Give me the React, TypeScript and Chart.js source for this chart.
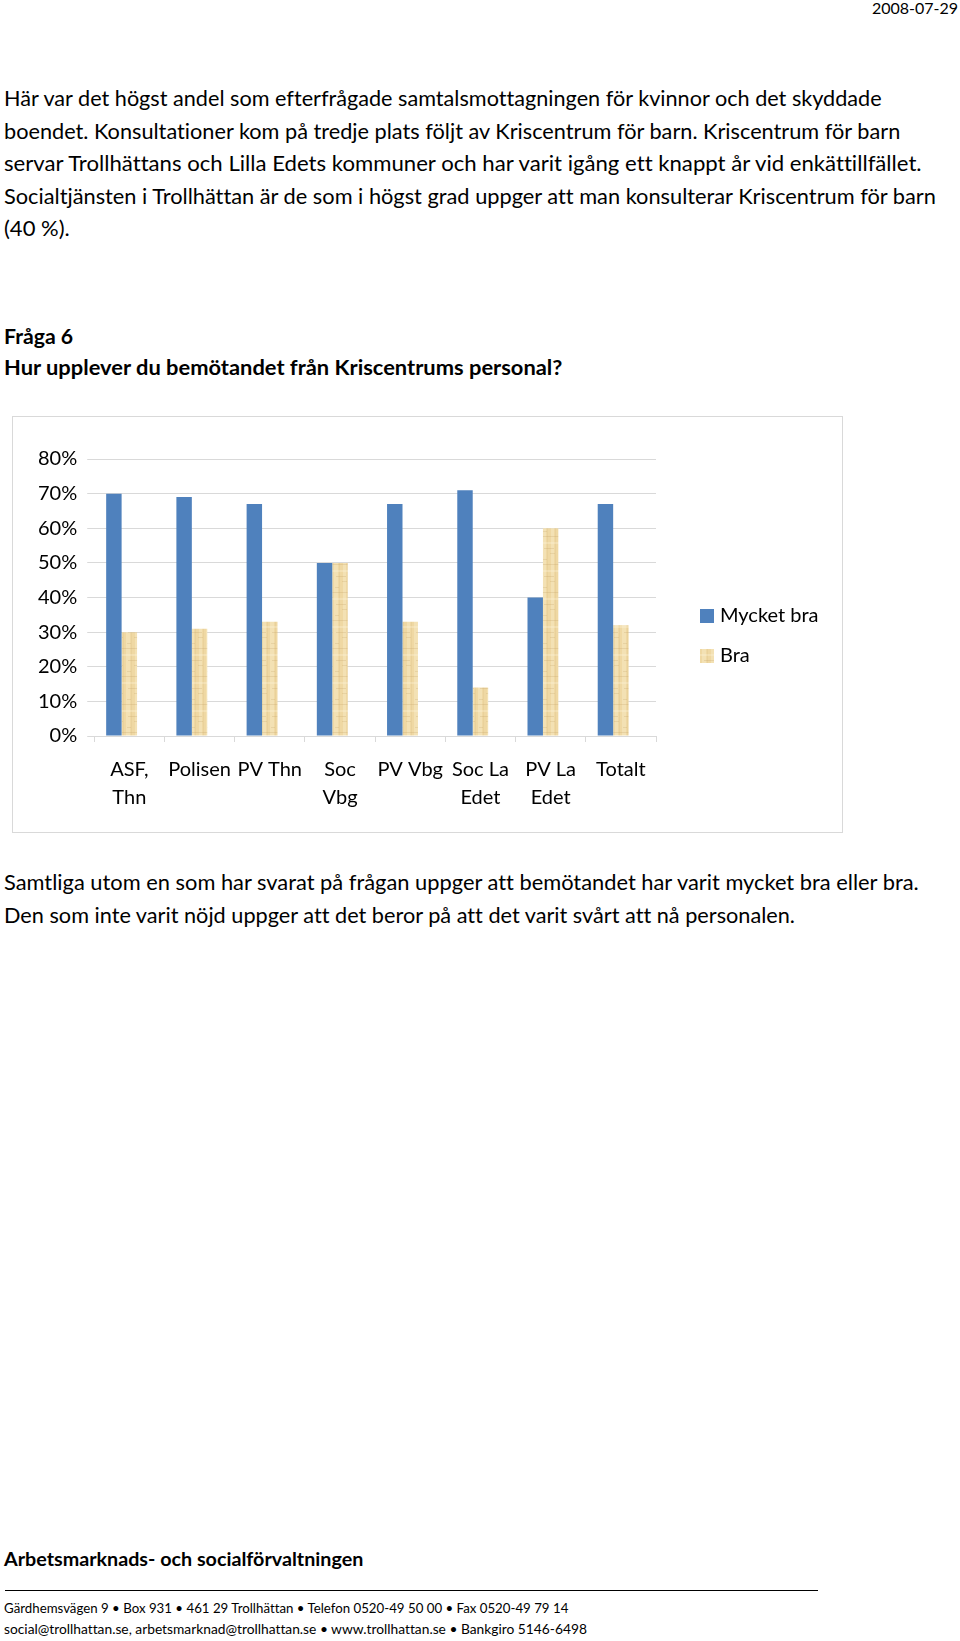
import React, { useEffect, useLayoutEffect, useRef } from "react";
import { Chart, registerables } from "chart.js";

Chart.register(...registerables);

// ---- Data ----
const categories: (string | string[])[] = [
  ["ASF,", "Thn"],
  "Polisen",
  "PV Thn",
  ["Soc", "Vbg"],
  "PV Vbg",
  ["Soc La", "Edet"],
  ["PV La", "Edet"],
  "Totalt",
];
const seriesNames = ["Mycket bra", "Bra", "Övrigt"];
const mycketBra = [70, 69, 67, 50, 67, 71, 40, 67];
const bra = [30, 31, 33, 50, 33, 14, 60, 32];
// third series of the original chart: no visible bars, not in legend
const ovrigt = [0, 0, 0, 0, 0, 0, 0, 0];
const legendSeries = [0, 1];
const yMin = 0;
const yMax = 80;
const yStep = 10;

const FONT = "Lato, 'Open Sans', sans-serif";

function makeParchment(): CanvasPattern | string {
  const c = document.createElement("canvas");
  c.width = 16;
  c.height = 28;
  const g = c.getContext("2d");
  if (!g) return "#EFD9A6";
  g.fillStyle = "#EFD8A3";
  g.fillRect(0, 0, 16, 28);
  g.fillStyle = "rgba(255,248,225,0.28)";
  g.fillRect(1, 0, 4, 28);
  g.fillRect(10, 0, 3, 28);
  g.fillStyle = "rgba(196,165,105,0.13)";
  g.fillRect(6, 0, 1, 28);
  g.fillRect(14, 0, 1, 28);
  g.fillStyle = "rgba(185,150,90,0.22)";
  g.fillRect(0, 7, 16, 1);
  g.fillRect(3, 19, 10, 1);
  g.fillStyle = "rgba(255,246,222,0.3)";
  g.fillRect(0, 13, 16, 2);
  g.fillStyle = "rgba(180,145,85,0.18)";
  g.fillRect(9, 24, 5, 1);
  g.fillRect(2, 2, 4, 1);
  const p = g.createPattern(c, "repeat");
  return p || "#EFD9A6";
}

// Legend at the right of the plot, Excel style (box + label, vertically centred)
const sideLegend = {
  id: "sideLegend",
  afterDraw(chart: any) {
    const ctx: CanvasRenderingContext2D = chart.ctx;
    const area = chart.chartArea;
    const box = 14;
    const gapX = 44;
    const spacing = 40;
    const centre = chart.height / 2 + 11;
    const n = legendSeries.length;
    const y0 = centre - ((n - 1) * spacing) / 2;
    const x = area.right + gapX;
    ctx.save();
    ctx.font = `20px ${FONT}`;
    ctx.textBaseline = "middle";
    ctx.textAlign = "left";
    legendSeries.forEach((di, i) => {
      const ds = chart.data.datasets[di];
      const y = y0 + i * spacing;
      ctx.fillStyle = ds.backgroundColor;
      ctx.fillRect(x, Math.round(y - box / 2), box, box);
      ctx.fillStyle = "#000";
      ctx.fillText(ds.label, x + box + 6, y);
    });
    ctx.restore();
  },
};

function BarChart() {
  const ref = useRef<HTMLCanvasElement | null>(null);
  useEffect(() => {
    if (!ref.current) return;
    Chart.defaults.font.family = FONT;
    const tan = makeParchment();
    const chart = new Chart(ref.current, {
      type: "bar",
      data: {
        labels: categories as any,
        datasets: [
          { label: seriesNames[0], data: mycketBra, backgroundColor: "#4F81BD", borderWidth: 0 },
          { label: seriesNames[1], data: bra, backgroundColor: tan as any, borderWidth: 0 },
          { label: seriesNames[2], data: ovrigt, backgroundColor: "rgba(0,0,0,0)", borderWidth: 0 },
        ],
      },
      plugins: [sideLegend],
      options: {
        animation: false,
        responsive: false,
        events: [],
        datasets: { bar: { barPercentage: 1, categoryPercentage: 0.66 } },
        layout: { padding: { left: 15, top: 42, right: 186, bottom: 6 } },
        plugins: {
          tooltip: { enabled: false },
          legend: { display: false },
        },
        scales: {
          x: {
            grid: {
              offset: true,
              drawOnChartArea: false,
              drawTicks: true,
              tickLength: 6,
              color: "#D9D9D9",
            },
            border: { display: true, color: "#D9D9D9" },
            ticks: {
              color: "#000",
              font: { size: 20, lineHeight: 1.4, family: FONT },
              padding: 14,
              maxRotation: 0,
              minRotation: 0,
              autoSkip: false,
            },
          },
          y: {
            min: yMin,
            max: yMax,
            ticks: {
              stepSize: yStep,
              callback: (v: any) => v + "%",
              color: "#000",
              font: { size: 20, family: FONT },
              padding: 10,
            },
            grid: { color: "#D9D9D9", tickLength: 7 },
            border: { display: false },
          },
        },
      },
    });
    return () => chart.destroy();
  }, []);
  return <canvas ref={ref} width={829} height={415} style={{ display: "block", width: 829, height: 415 }} />;
}

type LineProps = {
  text: string;
  x: number;
  baseline: number;
  size: number;
  width: number;
  bold?: boolean;
  right?: boolean;
};

function Line({ text, x, baseline, size, width, bold, right }: LineProps) {
  const ref = useRef<HTMLDivElement | null>(null);
  useLayoutEffect(() => {
    const el = ref.current;
    if (!el) return;
    el.style.transform = "none";
    const w = el.offsetWidth;
    if (w > 0) el.style.transform = `scaleX(${width / w})`;
  }, [text, width]);
  const left = right ? x - width : x;
  return (
    <div
      ref={ref}
      style={{
        position: "absolute",
        left,
        top: baseline - 0.987 * size,
        fontFamily: FONT,
        fontSize: size,
        lineHeight: 1.2,
        fontWeight: bold ? 700 : 400,
        whiteSpace: "nowrap",
        color: "#000",
        fontVariantLigatures: "none",
        fontFeatureSettings: '"liga" 0, "clig" 0, "dlig" 0',
        transformOrigin: "left top",
      }}
    >
      {text}
    </div>
  );
}

export default function App() {
  return (
    <div style={{ position: "absolute", left: 0, top: 0, width: 960, height: 1641, background: "#fff", overflow: "hidden" }}>
      <Line text="2008-07-29" x={958} baseline={13.5} size={16} width={86} right />
      <Line text="Här var det högst andel som efterfrågade samtalsmottagningen för kvinnor och det skyddade" x={4} baseline={106} size={21} width={878} />
      <Line text="boendet. Konsultationer kom på tredje plats följt av Kriscentrum för barn. Kriscentrum för barn" x={4} baseline={138.5} size={21} width={896} />
      <Line text="servar Trollhättans och Lilla Edets kommuner och har varit igång ett knappt år vid enkättillfället." x={4} baseline={171} size={21} width={918} />
      <Line text="Socialtjänsten i Trollhättan är de som i högst grad uppger att man konsulterar Kriscentrum för barn" x={4} baseline={203.5} size={21} width={932} />
      <Line text="(40 %)." x={4} baseline={236} size={21} width={66} />
      <Line text="Fråga 6" x={4} baseline={344} size={20} width={69} bold />
      <Line text="Hur upplever du bemötandet från Kriscentrums personal?" x={4} baseline={375} size={20} width={558} bold />

      <div style={{ position: "absolute", left: 12, top: 416, width: 831, height: 417, border: "1px solid #D9D9D9", boxSizing: "border-box" }}>
        <BarChart />
      </div>

      <Line text="Samtliga utom en som har svarat på frågan uppger att bemötandet har varit mycket bra eller bra." x={4} baseline={890} size={21} width={915} />
      <Line text="Den som inte varit nöjd uppger att det beror på att det varit svårt att nå personalen." x={4} baseline={922.5} size={21} width={791} />

      <Line text="Arbetsmarknads- och socialförvaltningen" x={4} baseline={1567} size={19} width={359} bold />
      <div style={{ position: "absolute", left: 5, top: 1590, width: 813, height: 1, background: "#000" }} />
      <Line text="Gärdhemsvägen 9 • Box 931 • 461 29 Trollhättan • Telefon 0520-49 50 00 • Fax 0520-49 79 14" x={4} baseline={1614} size={13} width={564} />
      <Line text="social@trollhattan.se, arbetsmarknad@trollhattan.se • www.trollhattan.se • Bankgiro 5146-6498" x={4} baseline={1634.5} size={13} width={583} />
    </div>
  );
}
